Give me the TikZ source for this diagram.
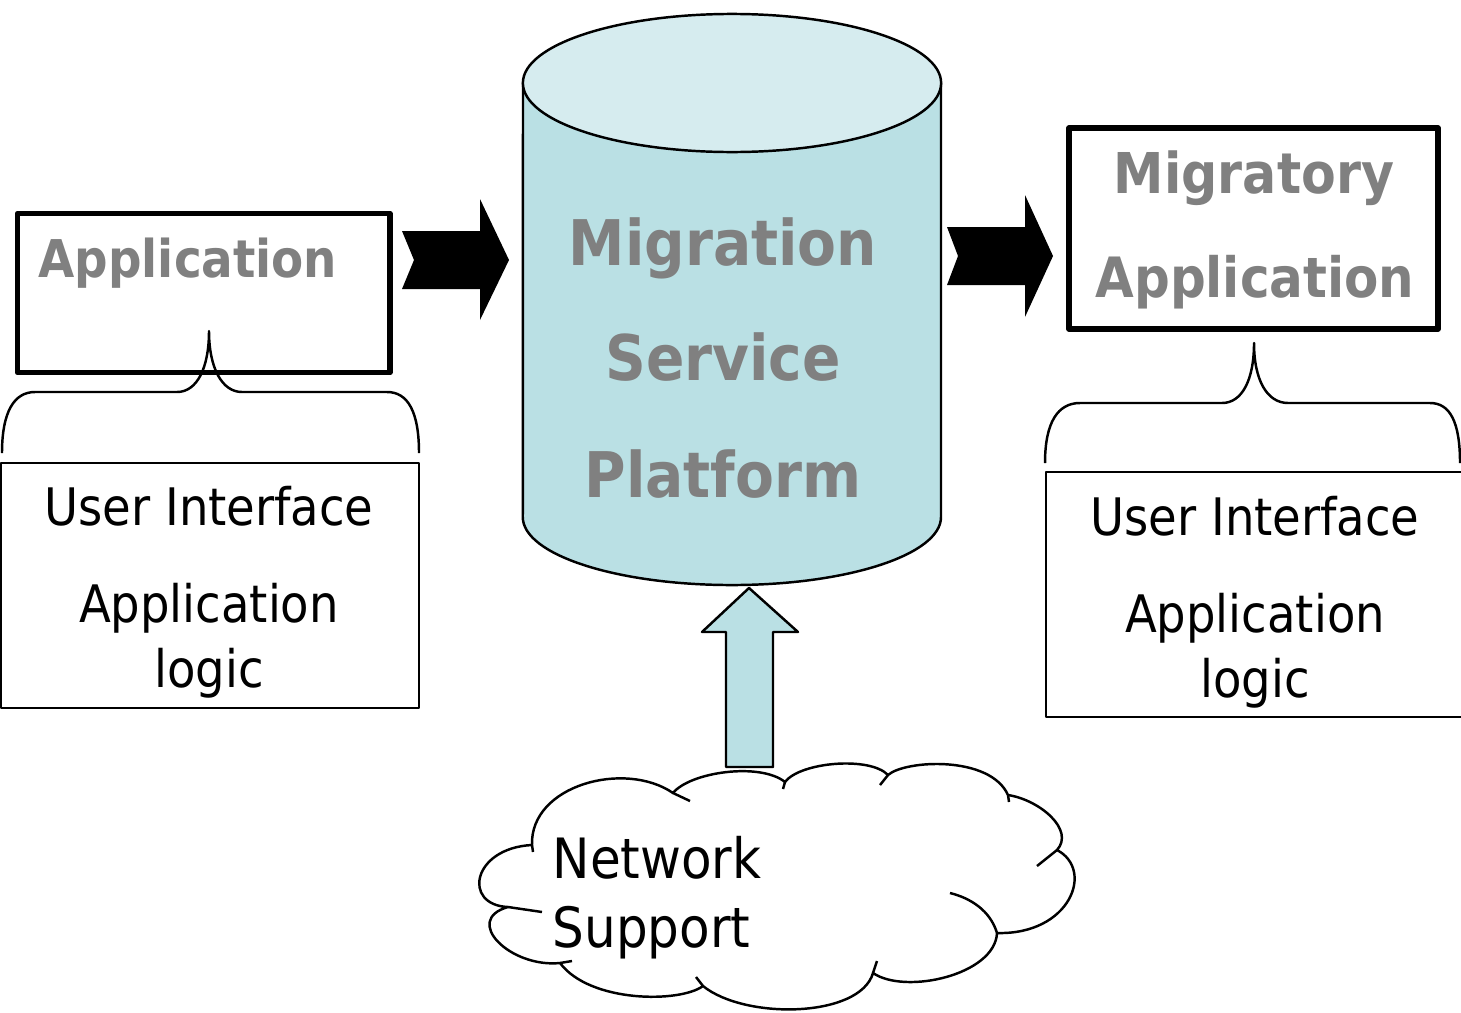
\documentclass[tikz,border=0pt]{standalone}
\usepackage{fontspec}
\newfontfamily\tahoma{DejaVu Sans Condensed}
\usetikzlibrary{calc}
\definecolor{cylbody}{RGB}{186,224,228}
\definecolor{cyltop}{RGB}{214,236,239}
\definecolor{labelgray}{RGB}{128,128,128}

\begin{document}
\begin{tikzpicture}[x=0.01cm,y=-0.01cm,line join=round,
  thinline/.style={line width=0.7pt},
  thickbox/.style={line width=1.6pt},
  heading/.style={inner sep=0,anchor=base,text=labelgray,font=\tahoma\bfseries\fontsize{#1}{#1}\selectfont},
  plain/.style={inner sep=0,anchor=base,font=\tahoma\fontsize{#1}{#1}\selectfont}]
\useasboundingbox (0,0) rectangle (1461,1012);
% left side: application and its parts
\draw[thickbox] (17.5,213.5) coordinate(L1) rectangle (390,372.5) coordinate(L2);
\node[heading=14.8,anchor=base west] (app) at (38,277) {Application};
\draw[thinline] (2,453) .. controls (2,412) and (14,392) .. (35,392) -- (177,392) .. controls (197,392) and (209,368) .. (209,331) .. controls (209,368) and (222,392) .. (242,392) -- (387,392) .. controls (408,392) and (419,412) .. (419,453);
\draw[thinline] (1,463) rectangle (419,708);
\node[plain=14.7] (ui) at (209,525) {User Interface};
\node[plain=14.7] (al) at (209,622) {Application};
\node[plain=14.7] (lg) at (209,687) {logic};
% platform
\draw[thinline,fill=cylbody] (941,83) -- (941,517) arc[start angle=0,end angle=-180,x radius=2.09cm,y radius=0.68cm] -- (523,83);
\draw[thinline,fill=cyltop] (732,83) ellipse[x radius=2.09cm,y radius=0.69cm];
\node[heading=17.9] (mig) at (723,265) {Migration};
\node[heading=17.9] (srv) at (723,380) {Service};
\node[heading=17.9] (plt) at (723,497) {Platform};
% block arrows
\fill (402,231) -- (480,231) -- (480,199) -- (509,260) -- (480,320) -- (480,289) -- (402,289) -- (414,260) -- cycle;
\fill (947,227) -- (1025,227) -- (1025,195) -- (1053,256) -- (1025,317) -- (1025,285) -- (947,285) -- (958,256) -- cycle;
\draw[thinline,fill=cylbody] (726,767) -- (726,632) -- (702,632) -- (749,588) -- (798,632) -- (773,632) -- (773,767) -- cycle;
% right side: migratory application
\draw[thickbox] (1069,128) rectangle (1438,329);
\node[heading=16] (mgy) at (1254,193) {Migratory};
\node[heading=15.8] (mapp) at (1255,297) {Application};
\draw[thinline] (1045,463) .. controls (1045,422) and (1058,403) .. (1080,403) -- (1222,403) .. controls (1242,403) and (1254,380) .. (1254,343) .. controls (1254,380) and (1267,403) .. (1288,403) -- (1430,403) .. controls (1450,403) and (1460,422) .. (1460,463);
\draw[thinline] (1462,472) -- (1046,472) -- (1046,717) -- (1462,717);
\node[plain=14.7] (ui2) at (1255,535) {User Interface};
\node[plain=14.7] (al2) at (1255,632) {Application};
\node[plain=14.7] (lg2) at (1255,697) {logic};
% cloud
\draw[thinline,fill=white] (532,845) .. controls (530,785) and (625,760) .. (673,793)
  .. controls (690,772) and (760,762) .. (785,782)
  .. controls (800,762) and (870,756) .. (888,775)
  .. controls (905,760) and (990,755) .. (1008,795)
  .. controls (1040,800) and (1075,830) .. (1057,850)
  .. controls (1095,870) and (1070,935) .. (997,933)
  .. controls (995,975) and (905,995) .. (873,973)
  .. controls (860,1018) and (745,1020) .. (703,986)
  .. controls (680,1003) and (590,1003) .. (560,963)
  .. controls (510,968) and (462,920) .. (508,907)
  .. controls (462,905) and (472,848) .. (532,845) -- cycle;
\foreach \a/\b in {{(532,845)}/{(533,852)},{(673,793)}/{(690,801)},{(785,782)}/{(783,789)},{(888,775)}/{(880,785)},{(1008,795)}/{(1009,802)},{(1057,850)}/{(1037,866)},{(873,973)}/{(877,961)},{(703,986)}/{(696,977)},{(560,963)}/{(572,961)},{(508,907)}/{(542,912)}}
  {\draw[thinline] \a -- \b;}
\draw[thinline] (997,933) .. controls (990,910) and (970,898) .. (950,893);
\node[plain=15.8,anchor=base west] (net) at (552,878) {Network};
\node[plain=15.8,anchor=base west] (sup) at (552,947) {Support};
\end{tikzpicture}
\end{document}
